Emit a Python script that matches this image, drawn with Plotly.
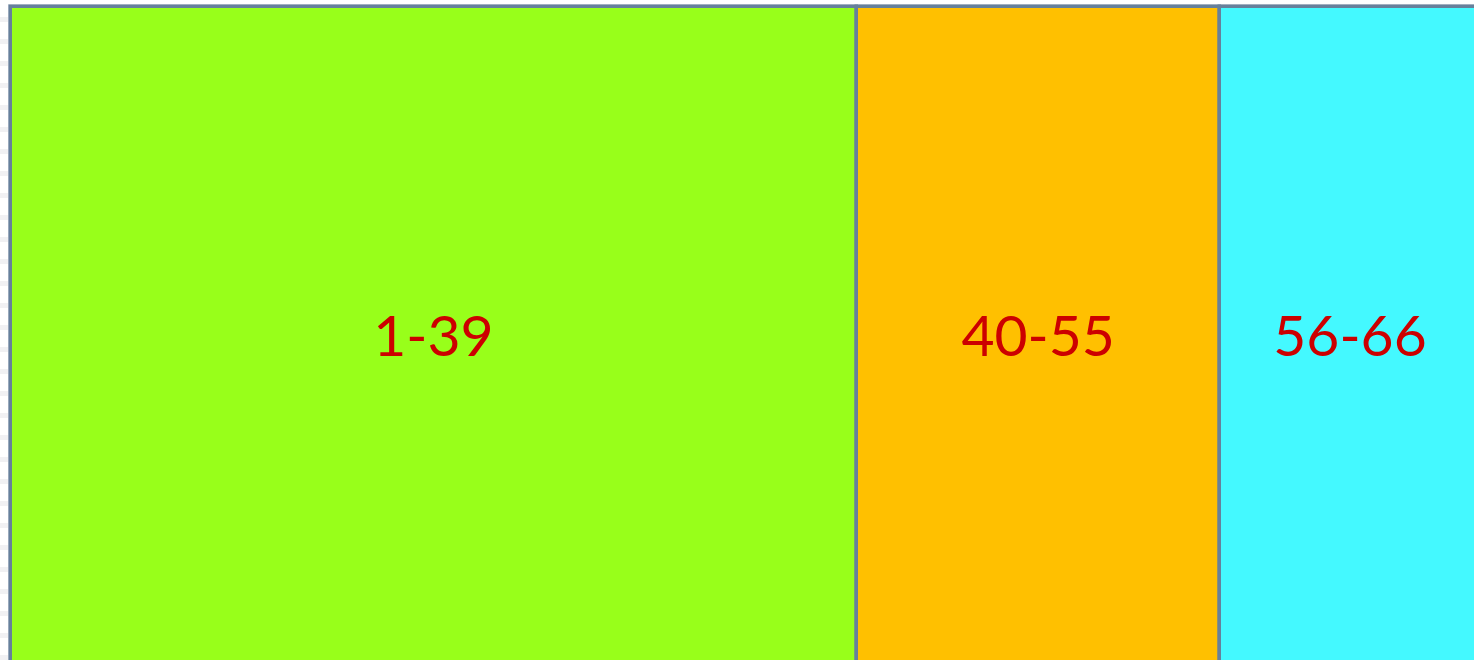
import plotly.graph_objects as go

# ---- data ----
labels = ["1-39", "40-55", "56-66"]
widths = [39, 16.75, 12]          # relative width of each block
colors = ["#98FF1A", "#FFC000", "#44F9FF"]

# ---- styling constants ----
W, H = 1474, 660
border = "#66809B"
unit_px = (856.5 - 10.5) / widths[0]
x_left = -10.5 / unit_px
x_right = x_left + W / unit_px
top_y = 1 - 6.5 / H
label_y = 1 - 342 / H

lefts = []
acc = 0.0
for w in widths:
    lefts.append(acc)
    acc += w
centers = [l + w / 2 for l, w in zip(lefts, widths)]

fig = go.Figure()
fig.add_trace(go.Bar(
    x=centers, y=[top_y + 0.5] * len(widths), base=-0.5, width=widths,
    marker=dict(color=colors, line=dict(color=border, width=3.5)),
    hoverinfo="skip", showlegend=False,
))
fig.add_trace(go.Scatter(
    x=centers, y=[label_y] * len(labels), mode="text", text=labels,
    textfont=dict(family="Lato", size=57, color="#CC0000"),
    hoverinfo="skip", showlegend=False,
))

shapes = []
# faint stripes at the left edge
k = 0
while 17 + 22 * k < H:
    y0 = 17 + 22 * k
    shapes.append(dict(type="rect", xref="paper", yref="paper",
                       x0=0, x1=8 / W, y0=1 - (y0 + 5) / H, y1=1 - y0 / H,
                       fillcolor="#F1F1F3", line=dict(width=0), layer="below"))
    k += 1
shapes.append(dict(type="rect", xref="paper", yref="paper",
                   x0=8 / W, x1=9 / W, y0=0, y1=1 - 4 / H,
                   fillcolor="#CDD3DD", line=dict(width=0), layer="below"))
shapes.append(dict(type="rect", xref="paper", yref="paper",
                   x0=8 / W, x1=1, y0=1 - 5 / H, y1=1 - 4 / H,
                   fillcolor="#DADDE2", line=dict(width=0), layer="below"))

fig.update_layout(
    width=W, height=H,
    margin=dict(l=0, r=0, t=0, b=0),
    paper_bgcolor="white", plot_bgcolor="white",
    xaxis=dict(range=[x_left, x_right], visible=False, fixedrange=True),
    yaxis=dict(range=[0, 1], visible=False, fixedrange=True),
    bargap=0, shapes=shapes,
)
fig.write_html(
    "out.html",
    config={"displayModeBar": False},
    post_script="document.body.style.margin='0';document.body.style.overflow='hidden';",
)
